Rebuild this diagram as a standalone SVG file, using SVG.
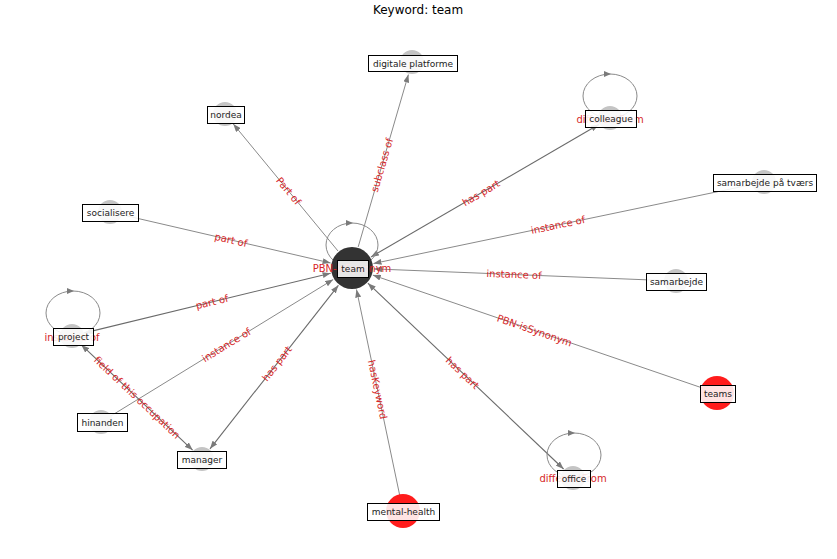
<svg xmlns="http://www.w3.org/2000/svg" width="837" height="559" viewBox="0 0 837 559">
<style>
.e{stroke:#8a8a8a;stroke-width:1;fill:none}
.e2{stroke:#6a6a6a;stroke-width:1.1;fill:none}
.loop{stroke:#8a8a8a;stroke-width:1;fill:none}
.el{font-family:"DejaVu Sans",sans-serif;font-size:10px;fill:#d62728;text-anchor:middle;dominant-baseline:central}
.box{fill:#ffffff;fill-opacity:0.88;stroke:#000;stroke-width:1}
.nl{font-family:"DejaVu Sans",sans-serif;font-size:9px;fill:#222;text-anchor:middle;dominant-baseline:central}
.g{fill:#c4c4c4}
.r{fill:#ff1c1c}
.ah{fill:#7a7a7a}
</style>
<defs>
<marker id="a" markerUnits="userSpaceOnUse" markerWidth="8" markerHeight="6" viewBox="0 0 8 6" refX="8" refY="3" orient="auto-start-reverse">
<path d="M0,0 L8,3 L0,6 z" fill="#7a7a7a"/>
</marker>
</defs>
<rect width="837" height="559" fill="#fff"/>
<text x="418" y="10" font-family="DejaVu Sans,sans-serif" font-size="12" text-anchor="middle" dominant-baseline="central" fill="#000">Keyword: team</text>

<g id="connectors">
<line class="e" x1="338" y1="251" x2="233.3" y2="124" marker-end="url(#a)"/>
<line class="e" x1="358.2" y1="246.9" x2="408.4" y2="74.5" marker-end="url(#a)"/>
<line class="e2" x1="371" y1="256.9" x2="598.8" y2="124.5" marker-start="url(#a)" marker-end="url(#a)"/>
<line class="e" x1="764" y1="182" x2="373.5" y2="263.5" marker-end="url(#a)"/>
<line class="e" x1="676" y1="281" x2="374" y2="268.9" marker-end="url(#a)"/>
<line class="e" x1="717" y1="393" x2="372.8" y2="275.1" marker-end="url(#a)"/>
<line class="e2" x1="367.9" y1="283.2" x2="563.6" y2="469" marker-start="url(#a)" marker-end="url(#a)"/>
<line class="e" x1="403" y1="511" x2="356.5" y2="289.5" marker-end="url(#a)"/>
<line class="e2" x1="338.4" y1="285.3" x2="210" y2="448.8" marker-start="url(#a)" marker-end="url(#a)"/>
<line class="e" x1="101" y1="422" x2="333.2" y2="279.5" marker-end="url(#a)"/>
<line class="e2" x1="330.6" y1="273.2" x2="84.6" y2="332.9" marker-start="url(#a)" marker-end="url(#a)"/>
<line class="e" x1="110" y1="212" x2="330.6" y2="263" marker-end="url(#a)"/>
<line class="e2" x1="81.4" y1="344.9" x2="192.6" y2="450.1" marker-start="url(#a)" marker-end="url(#a)"/>
<ellipse class="loop" cx="352" cy="245" rx="26" ry="22"/>
<path class="ah" d="M346,220 L353,223 L346,226 z"/>
<ellipse class="loop" cx="610" cy="96" rx="27" ry="22"/>
<path class="ah" d="M604,71 L611,74 L604,77 z"/>
<ellipse class="loop" cx="73" cy="313" rx="27" ry="22"/>
<path class="ah" d="M67,288 L74,291 L67,294 z"/>
<ellipse class="loop" cx="574" cy="455" rx="27" ry="22"/>
<path class="ah" d="M568,430 L575,433 L568,436 z"/>
</g>

<g id="node-circles">
<circle cx="352" cy="268" r="21" fill="#333"/>
<circle class="g" cx="412" cy="62" r="12"/>
<circle class="g" cx="225" cy="114" r="12"/>
<circle class="g" cx="610" cy="118" r="12"/>
<circle class="g" cx="764" cy="182" r="12"/>
<circle class="g" cx="110" cy="212" r="12"/>
<circle class="g" cx="676" cy="281" r="12"/>
<circle class="g" cx="72" cy="336" r="12"/>
<circle class="r" cx="717" cy="393" r="17"/>
<circle class="g" cx="101" cy="422" r="12"/>
<circle class="g" cx="202" cy="459" r="12"/>
<circle class="g" cx="573" cy="478" r="12"/>
<circle class="r" cx="403" cy="511" r="17"/>
</g>

<g id="edge-labels">
<text class="el" transform="translate(288.5,191) rotate(50.5)">Part of</text>
<text class="el" transform="translate(382,165) rotate(-73.8)">subclass of</text>
<text class="el" transform="translate(481,193) rotate(-30.2)">has part</text>
<text class="el" transform="translate(558,225) rotate(-11.8)">instance of</text>
<text class="el" transform="translate(514,274.5) rotate(2.3)">instance of</text>
<text class="el" transform="translate(534.5,330.5) rotate(18.9)">PBN-isSynonym</text>
<text class="el" transform="translate(462.5,373) rotate(43.5)">has part</text>
<text class="el" transform="translate(377.5,389.5) rotate(78.1)">hasKeyword</text>
<text class="el" transform="translate(277,363.5) rotate(-51.9)">has part</text>
<text class="el" transform="translate(226.5,345) rotate(-31.5)">instance of</text>
<text class="el" transform="translate(212,302) rotate(-13.65)">part of</text>
<text class="el" transform="translate(231,240) rotate(13)">part of</text>
<text class="el" transform="translate(137,397.5) rotate(43.4)">field of this occupation</text>
<text class="el" x="352" y="268">PBN-isSynonym</text>
<text class="el" x="610" y="119">differentFrom</text>
<text class="el" x="72" y="337">instance of</text>
<text class="el" x="573" y="478">differentFrom</text>
</g>

<g id="node-team"><rect class="box" x="337.5" y="260.5" width="31" height="17"/><text class="nl" x="353" y="269">team</text></g>
<g id="node-digitale-platforme"><rect class="box" x="368.5" y="55.5" width="89" height="16"/><text class="nl" x="413" y="63.5">digitale platforme</text></g>
<g id="node-nordea"><rect class="box" x="207.5" y="106.5" width="37" height="17"/><text class="nl" x="226" y="115">nordea</text></g>
<g id="node-colleague"><rect class="box" x="585.5" y="110.5" width="51" height="17"/><text class="nl" x="611" y="119">colleague</text></g>
<g id="node-samarbejde-paa-tvaers"><rect class="box" x="713.5" y="174.5" width="103" height="17"/><text class="nl" x="765" y="183">samarbejde på tværs</text></g>
<g id="node-socialisere"><rect class="box" x="82.5" y="204.5" width="56" height="17"/><text class="nl" x="110.5" y="213">socialisere</text></g>
<g id="node-samarbejde"><rect class="box" x="646.5" y="273.5" width="60" height="17"/><text class="nl" x="676.5" y="282">samarbejde</text></g>
<g id="node-project"><rect class="box" x="53.5" y="328.5" width="40" height="17"/><text class="nl" x="73.5" y="337">project</text></g>
<g id="node-teams"><rect class="box" x="700.5" y="385.5" width="35" height="17"/><text class="nl" x="718" y="394">teams</text></g>
<g id="node-hinanden"><rect class="box" x="77.5" y="413.5" width="50" height="18"/><text class="nl" x="102.5" y="422.5">hinanden</text></g>
<g id="node-manager"><rect class="box" x="177.5" y="451.5" width="49" height="17"/><text class="nl" x="202" y="460">manager</text></g>
<g id="node-office"><rect class="box" x="557.5" y="470.5" width="33" height="17"/><text class="nl" x="574" y="479">office</text></g>
<g id="node-mental-health"><rect class="box" x="367.5" y="503.5" width="72" height="17"/><text class="nl" x="403.5" y="512">mental-health</text></g>
</svg>
